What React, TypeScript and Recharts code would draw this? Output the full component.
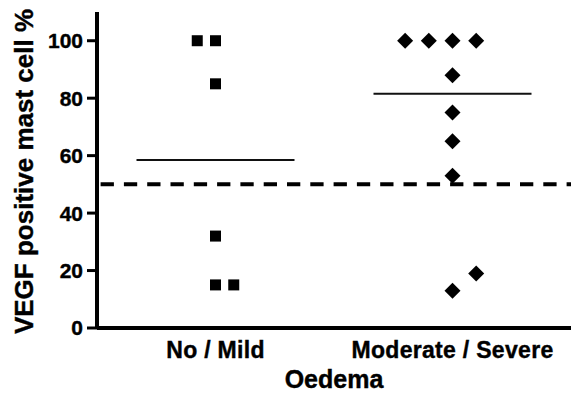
import React from 'react';
import { ScatterChart, Scatter, XAxis, YAxis, ReferenceLine, Label } from 'recharts';

// ---- data ----
const categories = ['No / Mild', 'Moderate / Severe'];
const categoryPositions = [1, 2];
const noMildValues = [100, 100, 85, 32, 15, 15];
const noMildJitter = [-0.077, 0, 0, 0, 0, 0.077];
const modSevValues = [100, 100, 100, 100, 88, 75, 65, 53, 13, 19];
const modSevJitter = [-0.2, -0.1, 0, 0.1, 0, 0, 0, 0, 0, 0.1];
const thresholdValue = 50;
const yTicks = [0, 20, 40, 60, 80, 100];
const yDomain = [0, 110];
const xDomain = [0.5, 2.5];
const medianHalfWidth = 1 / 3;
const xTitle = 'Oedema';
const yTitle = 'VEGF positive mast cell %';

const median = (arr: number[]) => {
  const s = [...arr].sort((a, b) => a - b);
  const n = s.length;
  return n % 2 ? s[(n - 1) / 2] : (s[n / 2 - 1] + s[n / 2]) / 2;
};

const noMildData = noMildValues.map((v, i) => ({ x: categoryPositions[0] + noMildJitter[i], y: v }));
const modSevData = modSevValues.map((v, i) => ({ x: categoryPositions[1] + modSevJitter[i], y: v }));
const medians = [median(noMildValues), median(modSevValues)];

const FONT = '"Liberation Sans", Arial, Helvetica, sans-serif';

const SquareShape = (props: any) => {
  const { cx, cy } = props;
  const s = 11;
  return <rect x={cx - s / 2} y={cy - s / 2} width={s} height={s} fill="#000" />;
};

const DiamondShape = (props: any) => {
  const { cx, cy } = props;
  const r = 8;
  return (
    <polygon
      points={`${cx},${cy - r} ${cx + r},${cy} ${cx},${cy + r} ${cx - r},${cy}`}
      fill="#000"
    />
  );
};

const XTick = (props: any) => {
  const { x, y, payload } = props;
  const idx = categoryPositions.indexOf(payload.value);
  return (
    <text
      x={x}
      y={y + 30}
      textAnchor="middle"
      fill="#000"
      stroke="#000"
      strokeWidth={0.4}
      fontFamily={FONT}
      fontWeight="bold"
      fontSize={23}
      letterSpacing={0.3}
    >
      {idx >= 0 ? categories[idx] : ''}
    </text>
  );
};

const YTitle = (props: any) => {
  const vb = props.viewBox || { x: 0, y: 12, width: 97, height: 316 };
  const cx = vb.x + 33;
  const cy = vb.y + vb.height / 2 + 1.5;
  return (
    <text
      x={cx}
      y={cy}
      transform={`rotate(-90 ${cx} ${cy})`}
      textAnchor="middle"
      fill="#000"
      stroke="#000"
      strokeWidth={0.4}
      fontFamily={FONT}
      fontWeight="bold"
      fontSize={26}
    >
      {yTitle}
    </text>
  );
};

export default function App() {
  return (
    <div style={{ position: 'absolute', left: 0, top: 0, width: 574, height: 393, background: '#fff' }}>
      <ScatterChart width={574} height={393} margin={{ top: 12, right: 3, bottom: 0, left: 0 }}>
        <XAxis
          type="number"
          dataKey="x"
          domain={xDomain}
          ticks={categoryPositions}
          allowDataOverflow
          height={65}
          tickLine={false}
          tickSize={0}
          tickMargin={0}
          axisLine={{ stroke: '#000', strokeWidth: 4 }}
          tick={<XTick />}
        >
          <Label
            value={xTitle}
            position="insideBottom"
            offset={5}
            style={{ fontFamily: FONT, fontWeight: 'bold', fontSize: 25, fill: '#000', stroke: '#000', strokeWidth: 0.4 }}
          />
        </XAxis>
        <YAxis
          type="number"
          dataKey="y"
          domain={yDomain}
          ticks={yTicks}
          allowDataOverflow
          width={97}
          tickSize={10}
          tickMargin={4}
          axisLine={{ stroke: '#000', strokeWidth: 4 }}
          tickLine={{ stroke: '#000', strokeWidth: 3 }}
          tick={{ fill: '#000', stroke: '#000', strokeWidth: 0.4, fontFamily: FONT, fontWeight: 'bold', fontSize: 21 }}
        >
          <Label content={<YTitle />} />
        </YAxis>
        <ReferenceLine
          y={thresholdValue}
          stroke="#000"
          strokeWidth={4}
          strokeDasharray="13.3 10"
          strokeDashoffset={19.7}
        />
        {categoryPositions.map((pos, i) => (
          <ReferenceLine
            key={i}
            segment={[
              { x: pos - medianHalfWidth, y: medians[i] },
              { x: pos + medianHalfWidth, y: medians[i] },
            ]}
            stroke="#111"
            strokeWidth={2}
          />
        ))}
        <Scatter data={noMildData} shape={<SquareShape />} isAnimationActive={false} />
        <Scatter data={modSevData} shape={<DiamondShape />} isAnimationActive={false} />
      </ScatterChart>
    </div>
  );
}
